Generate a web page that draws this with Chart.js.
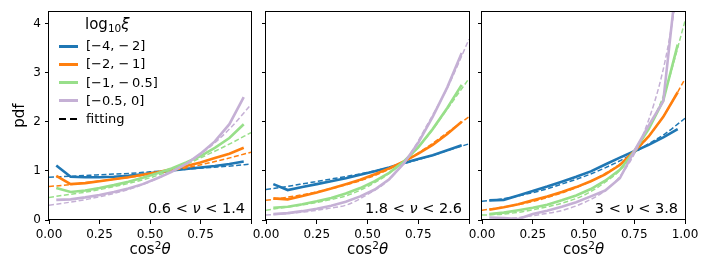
<!DOCTYPE html>
<html>
<head>
<meta charset="utf-8">
<script src="https://cdn.jsdelivr.net/npm/chart.js@4.4.1/dist/chart.umd.min.js"></script>
<style>
  body { margin: 0; width: 706px; height: 265px; position: relative; background: #fff; overflow: hidden;
         font-family: "DejaVu Sans", sans-serif; color: #000; }
  .panel { position: absolute; top: 0; height: 265px; }
  .txt { position: absolute; white-space: nowrap; line-height: 1; }
  .swatch { position: absolute; width: 19px; height: 0; }
  sub { font-size: 0.7em; vertical-align: -0.25em; }
  sup { font-size: 0.7em; vertical-align: 0.45em; }
</style>
</head>
<body>
<div class="panel" style="left:0;width:252px"><canvas id="c1" width="252" height="265"></canvas></div>
<div class="panel" style="left:252px;width:219px"><canvas id="c2" width="219" height="265"></canvas></div>
<div class="panel" style="left:468px;width:238px"><canvas id="c3" width="238" height="265"></canvas></div>
<div id="overlay"></div>

<script>
// bin centres of the histograms and x grid of the fitted curves
const binX = [0.036, 0.107, 0.179, 0.25, 0.321, 0.393, 0.464, 0.536, 0.607, 0.679, 0.75, 0.821, 0.893, 0.964];
const fitX = [0, 0.1, 0.2, 0.3, 0.4, 0.5, 0.6, 0.7, 0.8, 0.9, 1];
const xTicks = [0, 0.25, 0.5, 0.75, 1];
const yTicks = [0, 1, 2, 3, 4];

const xiLabels = ['[\u22124, \u2212\u20092]', '[\u22122, \u2212\u20091]', '[\u22121, \u2212\u20090.5]', '[\u22120.5, 0]'];
const colors = ['#1f77b4', '#ff7f0e', '#98df8a', '#c5b0d5'];
const nuLabels = ['0.6 &lt; <i>\u03bd</i> &lt; 1.4', '1.8 &lt; <i>\u03bd</i> &lt; 2.6', '3 &lt; <i>\u03bd</i> &lt; 3.8'];

// 0.6 < nu < 1.4
const nu1Hist = [
  [1.11, 0.88, 0.87, 0.87, 0.88, 0.90, 0.93, 0.97, 1.01, 1.04, 1.07, 1.10, 1.14, 1.19],
  [0.90, 0.73, 0.75, 0.79, 0.83, 0.87, 0.92, 0.97, 1.03, 1.10, 1.17, 1.26, 1.35, 1.47],
  [0.65, 0.57, 0.60, 0.65, 0.71, 0.78, 0.86, 0.95, 1.05, 1.17, 1.30, 1.47, 1.67, 1.95],
  [0.41, 0.42, 0.46, 0.51, 0.57, 0.64, 0.73, 0.85, 0.98, 1.14, 1.35, 1.60, 1.95, 2.50]
];
const nu1Fit = [
  [0.87, 0.89, 0.91, 0.93, 0.95, 0.98, 1.01, 1.04, 1.07, 1.10, 1.14],
  [0.68, 0.72, 0.77, 0.82, 0.87, 0.93, 1.00, 1.08, 1.17, 1.27, 1.38],
  [0.46, 0.52, 0.58, 0.66, 0.75, 0.86, 1.00, 1.17, 1.36, 1.56, 1.78],
  [0.30, 0.36, 0.43, 0.52, 0.63, 0.78, 0.97, 1.20, 1.50, 1.88, 2.35]
];

// 1.8 < nu < 2.6
const nu2Hist = [
  [0.73, 0.61, 0.67, 0.73, 0.79, 0.85, 0.92, 0.99, 1.07, 1.16, 1.24, 1.32, 1.42, 1.52],
  [0.44, 0.42, 0.49, 0.56, 0.64, 0.73, 0.82, 0.93, 1.05, 1.19, 1.35, 1.53, 1.75, 2.00],
  [0.25, 0.27, 0.32, 0.38, 0.45, 0.54, 0.65, 0.79, 0.96, 1.19, 1.48, 1.85, 2.28, 2.75],
  [0.12, 0.14, 0.18, 0.23, 0.29, 0.37, 0.48, 0.62, 0.83, 1.15, 1.57, 2.10, 2.70, 3.40]
];
const nu2Fit = [
  [0.62, 0.68, 0.75, 0.82, 0.89, 0.97, 1.06, 1.17, 1.29, 1.42, 1.55],
  [0.40, 0.46, 0.53, 0.62, 0.72, 0.85, 1.02, 1.24, 1.50, 1.80, 2.10],
  [0.20, 0.26, 0.32, 0.40, 0.50, 0.68, 0.93, 1.27, 1.73, 2.30, 2.88],
  [0.10, 0.13, 0.17, 0.23, 0.31, 0.52, 0.80, 1.28, 1.98, 2.75, 3.68]
];

// 3 < nu < 3.8
const nu3Hist = [
  [0.40, 0.41, 0.50, 0.59, 0.68, 0.78, 0.88, 0.99, 1.13, 1.27, 1.40, 1.53, 1.68, 1.85],
  [0.21, 0.26, 0.32, 0.40, 0.48, 0.57, 0.67, 0.79, 0.93, 1.12, 1.40, 1.70, 2.10, 2.60],
  [0.12, 0.15, 0.20, 0.25, 0.31, 0.40, 0.50, 0.63, 0.80, 1.02, 1.40, 1.85, 2.43, 3.57],
  [0.05, 0.04, 0.02, 0.12, 0.19, 0.27, 0.36, 0.48, 0.60, 0.85, 1.40, 1.92, 2.42, 5.10]
];
const nu3Fit = [
  [0.38, 0.43, 0.51, 0.61, 0.74, 0.88, 1.05, 1.25, 1.50, 1.75, 2.07],
  [0.20, 0.26, 0.33, 0.43, 0.56, 0.72, 0.93, 1.20, 1.60, 2.15, 2.87],
  [0.10, 0.12, 0.17, 0.25, 0.35, 0.50, 0.75, 1.10, 1.72, 2.60, 4.05],
  [0.00, 0.02, 0.06, 0.12, 0.20, 0.35, 0.58, 1.00, 1.80, 3.20, 5.60]
];

const FONT = 'DejaVu Sans';

// matplotlib style box around the axes
const frame = {
  id: 'frame',
  afterDraw(chart) {
    const a = chart.chartArea;
    const ctx = chart.ctx;
    ctx.save();
    ctx.strokeStyle = '#000';
    ctx.lineWidth = 1;
    ctx.strokeRect(Math.round(a.left) - 0.5, Math.round(a.top) + 0.5,
                   Math.round(a.right - a.left) + 1, Math.round(a.bottom - a.top) - 1);
    ctx.restore();
  }
};

function makePanel(id, hist, fit, first, showOne, yWidth, padRight) {
  let datasets = [];
  for (let i = 0; i < 4; i++) {
    datasets.push({
      data: binX.map((x, j) => ({ x: x, y: hist[i][j] })),
      borderColor: colors[i], borderWidth: 2.6, pointRadius: 0, tension: 0
    });
    datasets.push({
      data: fitX.map((x, j) => ({ x: x, y: fit[i][j] })),
      borderColor: colors[i], borderWidth: 1.5, borderDash: [5, 2.5], pointRadius: 0,
      cubicInterpolationMode: 'monotone'
    });
  }
  // chart.js paints the first dataset on top, matplotlib the last one
  datasets.reverse();

  new Chart(document.getElementById(id), {
    type: 'line',
    data: { datasets: datasets },
    options: {
      responsive: false,
      animation: false,
      layout: { padding: { top: 7, right: padRight, left: 0, bottom: 0 } },
      plugins: { legend: { display: false }, tooltip: { enabled: false } },
      scales: {
        x: {
          type: 'linear', min: 0, max: 1,
          afterBuildTicks: s => { s.ticks = xTicks.map(v => ({ value: v })); },
          afterFit: s => { s.height = 45; s.paddingLeft = 0; s.paddingRight = 0; },
          ticks: {
            callback: v => (v === 1 && !showOne) ? '' : v.toFixed(2),
            font: { family: FONT, size: 12 }, color: '#000', padding: 4,
            maxRotation: 0, autoSkip: false
          },
          grid: { display: true, drawOnChartArea: false, tickLength: 4, color: '#000' },
          border: { display: false }
        },
        y: {
          min: 0, max: 4.25,
          afterBuildTicks: s => { s.ticks = yTicks.map(v => ({ value: v })); },
          afterFit: s => { s.width = yWidth; },
          ticks: {
            callback: v => first ? String(v) : '',
            font: { family: FONT, size: 12 }, color: '#000', padding: 4
          },
          title: {
            display: first, text: 'pdf', color: '#000',
            font: { family: FONT, size: 15 }, padding: { top: 11, bottom: 0 }
          },
          grid: { display: true, drawOnChartArea: false, tickLength: 4, color: '#000' },
          border: { display: false }
        }
      }
    },
    plugins: [frame]
  });
}

makePanel('c1', nu1Hist, nu1Fit, true, false, 49, 1);
makePanel('c2', nu2Hist, nu2Fit, false, false, 14, 2);
makePanel('c3', nu3Hist, nu3Fit, false, true, 14, 21);

// text overlays: legend, panel labels, x titles
const ov = document.getElementById('overlay');
function addText(html, left, top, size, extra) {
  const d = document.createElement('div');
  d.className = 'txt';
  d.innerHTML = html;
  d.style.left = left + 'px';
  d.style.top = top + 'px';
  d.style.fontSize = size + 'px';
  if (extra) Object.assign(d.style, extra);
  ov.appendChild(d);
  return d;
}

addText('log<sub>10</sub><i>\u03be</i>', 85, 17, 15);
const rowY = [46, 64.3, 82.6, 100.9, 119.2];
xiLabels.concat(['fitting']).forEach((lab, i) => {
  const sw = document.createElement('div');
  sw.className = 'swatch';
  sw.style.left = '59px';
  if (i < 4) {
    sw.style.top = (rowY[i] - 1.5) + 'px';
    sw.style.borderTop = '3px solid ' + colors[i];
  } else {
    sw.style.top = (rowY[i] - 0.75) + 'px';
    sw.style.height = '1.5px';
    sw.style.width = '20px';
    sw.style.background = 'repeating-linear-gradient(90deg,#000 0 7px,transparent 7px 11px)';
  }
  ov.appendChild(sw);
  addText(lab, 86, rowY[i] - 7, 13);
});

const nuRight = [245, 462, 678];
nuLabels.forEach((lab, i) => {
  addText(lab, 0, 201, 14.5, { left: 'auto', right: (706 - nuRight[i]) + 'px' });
});

const xCenters = [150, 367.5, 583.5];
xCenters.forEach(cx => {
  addText('cos<sup>2</sup><i>\u03b8</i>', cx, 240, 15, { transform: 'translateX(-50%)' });
});
</script>
</body>
</html>
